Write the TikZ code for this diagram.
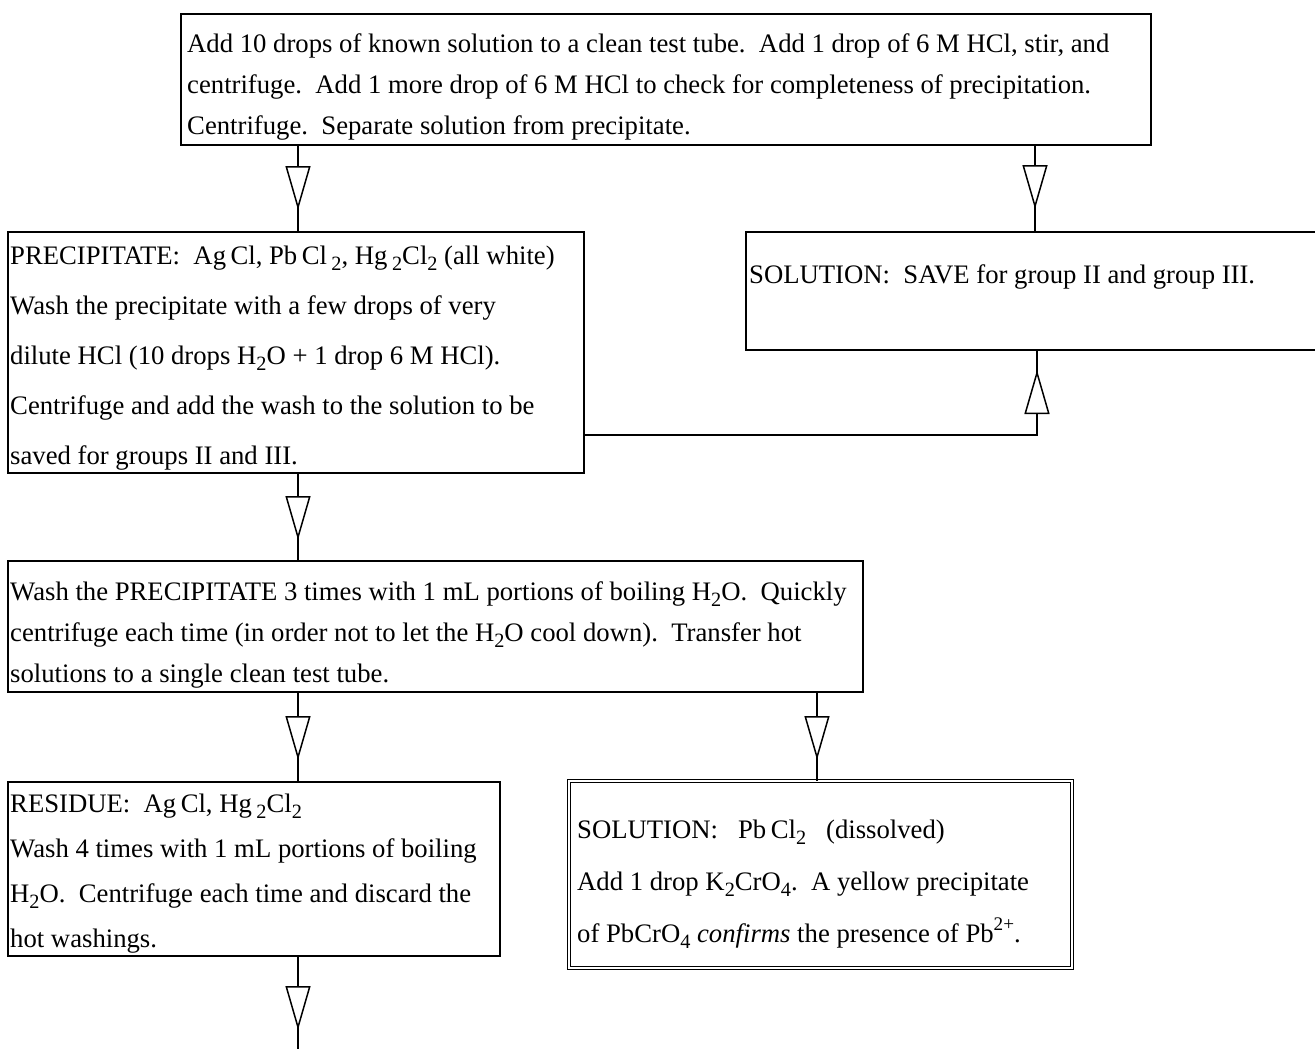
\documentclass[tikz,border=0pt]{standalone}
\usepackage{fontspec}
\setmainfont{Liberation Serif}
\usetikzlibrary{arrows.meta,decorations.markings}
% chemical sub- and superscripts
\newcommand{\sbt}[1]{\raisebox{-0.24em}{\scalebox{0.76}{#1}}}
\newcommand{\spt}[1]{\raisebox{0.42em}{\scalebox{0.72}{#1}}}
% fixes the height of a first line, so a text node's top lies 20pt above its first baseline
\newcommand{\fl}{\rule{0pt}{20pt}}
\begin{document}
\begin{tikzpicture}[x=1pt,y=-1pt,
  box/.style={draw, line width=1.8pt, rectangle, anchor=north west,
    inner sep=0pt, outer sep=0pt},
  dbox/.style={box, double, line width=1.1pt, double distance=2.6pt},
  txt/.style={anchor=north west, align=left, inner sep=0pt,
    font=\fontsize{26.7}{#1}\selectfont},
  flow/.style={line width=1.8pt, postaction={decorate},
    decoration={markings, mark=at position #1 with
      {\arrow{Triangle[length=44pt,width=25pt,fill=white,line width=1.5pt]}}}},
]
\useasboundingbox (0,0) rectangle (1315,1049);
\clip (0,0) rectangle (1315,1049);

% boxes
\node[box, minimum width=970pt, minimum height=131pt] (start) at (181,14) {};
\node[box, minimum width=576pt, minimum height=241pt] (ppt) at (8,232) {};
\node[box, minimum width=600pt, minimum height=118pt] (save) at (746,232) {};
\node[box, minimum width=855pt, minimum height=131pt] (hot) at (8,561) {};
\node[box, minimum width=492pt, minimum height=174pt] (res) at (8,782) {};
\node[dbox, minimum width=503pt, minimum height=187pt] (pb) at (569,781) {};

% texts (node top = first baseline - 20)
\node[txt=41pt] (tstart) at (187,32) {\fl Add 10 drops of known solution to a clean test tube.\ \ Add 1 drop of 6 M HCl, stir, and\\
centrifuge.\ \ Add 1 more drop of 6 M HCl to check for completeness of precipitation.\\
Centrifuge.\ \ Separate solution from precipitate.};

\node[txt=50pt] (tppt) at (10,244) {\fl PRECIPITATE:\ \ Ag\,Cl, Pb\,Cl\,\sbt{2}, Hg\,\sbt{2}Cl\sbt{2} (all white)\\
Wash the precipitate with a few drops of very\\
dilute HCl (10 drops H\sbt{2}O + 1 drop 6 M HCl).\\
Centrifuge and add the wash to the solution to be\\
saved for groups II and III.};

\node[txt=41pt] (tsave) at (749,263) {\fl SOLUTION:\ \ SAVE for group II and group III.};

\node[txt=41pt] (thot) at (10,580) {\fl Wash the PRECIPITATE 3 times with 1 mL portions of boiling H\sbt{2}O.\ \ Quickly\\
centrifuge each time (in order not to let the H\sbt{2}O cool down).\ \ Transfer hot\\
solutions to a single clean test tube.};

\node[txt=45pt] (tres) at (10,792) {\fl RESIDUE:\ \ Ag\,Cl, Hg\,\sbt{2}Cl\sbt{2}\\
Wash 4 times with 1 mL portions of boiling\\
H\sbt{2}O.\ \ Centrifuge each time and discard the\\
hot washings.};

\node[txt=52pt] (tpb) at (577,818) {\fl SOLUTION:\ \ \ Pb\,Cl\sbt{2}\ \ \ (dissolved)\\
Add 1 drop K\sbt{2}CrO\sbt{4}.\ \ A yellow precipitate\\
of PbCrO\sbt{4} \textit{confirms} the presence of Pb\spt{2+}.};

% connectors
\coordinate (pptin) at (298,232);
\coordinate (savein) at (1035,232);
\coordinate (bend) at (1037,435);
\coordinate (hotin) at (298,561);
\coordinate (resin) at (298,782);
\coordinate (pbin) at (817,781);
\coordinate (next) at (298,1049);

\draw[flow=-22pt] (start.south -| pptin) -- (pptin);
\draw[flow=-23pt] (start.south -| savein) -- (savein);
\draw[flow=-20pt] (ppt.east |- bend) -- (bend) -- (save.south -| bend);
\draw[flow=-21pt] (ppt.south -| hotin) -- (hotin);
\draw[flow=-22pt] (hot.south -| resin) -- (resin);
\draw[flow=-21pt] (hot.south -| pbin) -- (pbin);
\draw[flow=-19pt] (res.south -| next) -- (next);
\end{tikzpicture}
\end{document}
